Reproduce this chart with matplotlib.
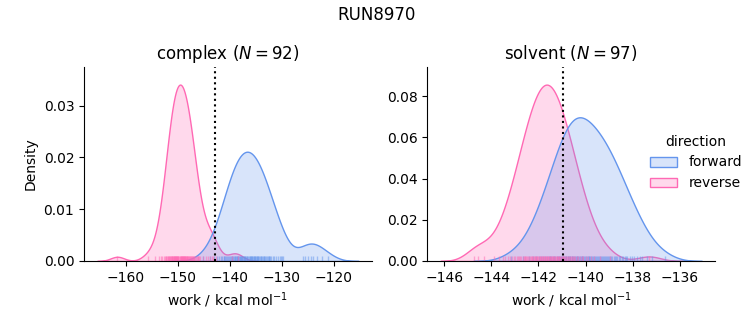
import numpy as np
import pandas as pd
import matplotlib
matplotlib.use("Agg")
import matplotlib.pyplot as plt
import matplotlib.ticker as ticker
import seaborn as sns

run_name = "RUN8970"
phases = ["complex", "solvent"]
directions = ["forward", "reverse"]
palette = {"forward": "cornflowerblue", "reverse": "hotpink"}

complex_forward = [
    -145.15, -143.74, -143.01, -142.49, -142.08, -141.73, -141.43, -141.17, -140.94, -140.71,
    -140.51, -140.32, -140.14, -139.97, -139.81, -139.65, -139.50, -139.36, -139.22, -139.09,
    -138.96, -138.83, -138.70, -138.59, -138.47, -138.35, -138.24, -138.12, -138.01, -137.90,
    -137.79, -137.68, -137.58, -137.47, -137.37, -137.26, -137.16, -137.06, -141.05, -136.85,
    -136.75, -136.65, -132.55, -136.44, -136.33, -136.22, -136.12, -136.01, -135.90, -135.79,
    -135.68, -135.57, -135.45, -135.34, -135.22, -135.11, -134.99, -134.87, -134.74, -134.62,
    -134.50, -134.37, -134.24, -134.10, -133.96, -133.82, -133.68, -133.53, -133.37, -133.21,
    -133.03, -132.85, -132.66, -132.46, -132.24, -132.01, -131.76, -131.48, -131.16, -130.80,
    -130.36, -130.10, -129.90, -129.70, -125.90, -125.50, -124.90, -124.50, -124.10, -123.20,
    -122.30, -121.20,
]
complex_reverse = [
    -161.60, -155.80, -154.45, -153.65, -153.24, -152.95, -152.71, -152.52, -152.35, -152.20,
    -152.07, -151.94, -151.83, -151.72, -151.62, -151.52, -151.43, -151.35, -151.26, -151.18,
    -151.10, -151.02, -150.95, -150.87, -150.80, -150.73, -150.66, -150.59, -150.53, -150.46,
    -150.40, -150.34, -150.27, -150.21, -150.15, -150.09, -150.03, -149.97, -149.91, -149.85,
    -146.20, -145.90, -149.60, -149.54, -149.47, -149.41, -149.34, -149.28, -149.21, -149.14,
    -149.08, -149.01, -148.94, -148.87, -148.80, -148.73, -148.66, -148.60, -148.52, -148.45,
    -148.37, -148.30, -148.22, -148.15, -148.07, -147.99, -147.90, -147.82, -147.73, -147.65,
    -147.55, -147.46, -147.36, -147.26, -147.15, -147.05, -146.93, -146.81, -146.68, -146.54,
    -146.40, -146.07, -145.66, -145.12, -144.60, -144.10, -143.80, -143.50, -143.20, -142.70,
    -139.60, -138.40,
]
solvent_forward = [
    -143.18, -142.66, -142.40, -142.25, -142.09, -141.98, -141.90, -141.81, -141.73, -141.64,
    -141.56, -141.51, -141.46, -141.39, -141.34, -141.28, -141.23, -141.19, -141.14, -141.10,
    -141.06, -141.01, -140.97, -140.92, -140.88, -140.83, -140.81, -140.76, -140.74, -140.70,
    -140.66, -140.64, -140.59, -140.56, -140.53, -140.49, -140.46, -140.42, -140.38, -140.36,
    -140.32, -140.29, -140.25, -140.21, -140.17, -140.14, -140.10, -140.06, -140.02, -139.99,
    -139.95, -139.91, -139.87, -139.84, -139.80, -139.76, -139.72, -139.69, -139.65, -139.61,
    -139.56, -139.53, -139.48, -139.44, -139.39, -139.36, -139.31, -139.27, -139.22, -139.19,
    -139.14, -139.10, -139.06, -139.01, -138.96, -138.91, -138.86, -138.81, -138.76, -138.72,
    -138.66, -138.59, -138.53, -138.47, -138.41, -138.34, -138.28, -138.22, -138.13, -138.03,
    -137.92, -137.81, -137.70, -137.60, -137.39, -137.16, -136.64,
]
solvent_reverse = [
    -144.72, -144.58, -144.33, -143.90, -143.68, -143.52, -143.40, -143.30, -143.21, -143.13,
    -143.05, -142.99, -142.93, -142.87, -142.82, -142.77, -142.72, -142.67, -142.63, -142.59,
    -142.55, -142.51, -142.47, -142.43, -142.39, -142.36, -142.33, -142.29, -142.26, -142.23,
    -142.19, -142.16, -142.13, -142.10, -142.07, -142.04, -142.01, -141.98, -141.95, -141.92,
    -141.89, -141.86, -141.83, -141.80, -141.78, -141.75, -141.72, -141.69, -141.66, -141.64,
    -141.61, -141.58, -141.55, -141.52, -141.50, -141.47, -141.44, -141.41, -141.38, -141.35,
    -141.32, -141.29, -141.26, -141.23, -141.20, -141.17, -141.14, -141.11, -141.07, -141.04,
    -141.01, -140.97, -140.94, -140.91, -140.87, -140.83, -140.79, -140.75, -140.71, -140.67,
    -140.63, -140.58, -140.53, -140.48, -140.43, -140.37, -140.31, -140.25, -140.17, -140.09,
    -140.00, -139.90, -139.78, -139.62, -139.40, -138.97, -137.30,
]
# free energy estimate per phase (dotted line)
estimates = {"complex": -142.8, "solvent": -140.95}

works = {
    ("complex", "forward"): complex_forward,
    ("complex", "reverse"): complex_reverse,
    ("solvent", "forward"): solvent_forward,
    ("solvent", "reverse"): solvent_reverse,
}

rows = []
for (phase, direction), vals in works.items():
    for w in vals:
        rows.append({"phase": phase, "direction": direction, "work": w})
df = pd.DataFrame(rows)

g = sns.displot(
    data=df, x="work", hue="direction", col="phase",
    kind="kde", fill=True, rug=True,
    hue_order=directions, col_order=phases, palette=palette,
    rug_kws=dict(alpha=0.5),
    facet_kws=dict(sharex=False, sharey=False),
    height=3.25, aspect=1.1,
)

for ax, phase in zip(g.axes.flat, phases):
    n = len(works[(phase, "forward")])
    ax.axvline(estimates[phase], color="k", ls=":", lw=1.5)
    ax.set_title(f"{phase} ($N = {n}$)", fontsize=12)
    ax.set_xlabel("work / kcal mol$^{-1}$")
g.axes.flat[0].set_ylabel("Density")
g.axes.flat[1].xaxis.set_major_locator(ticker.MultipleLocator(2))

fig = g.figure
fig.set_size_inches(7.53, 3.25)
fig.subplots_adjust(left=0.1116, right=0.9495, bottom=0.197, top=0.794, wspace=0.193)
fig.suptitle(run_name, fontsize=12)
sns.move_legend(g, "center left", bbox_to_anchor=(0.846, 0.50), frameon=False)

fig.savefig("out.png", dpi=100)
